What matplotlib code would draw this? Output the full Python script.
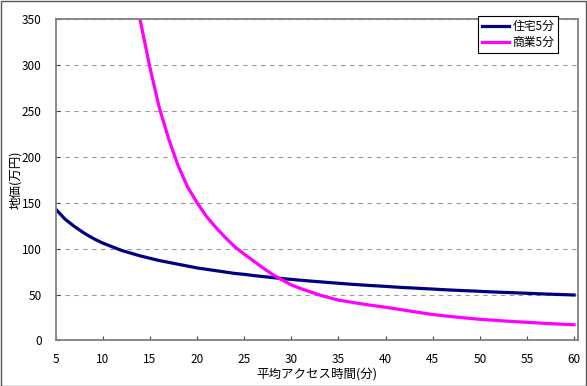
import numpy as np
import matplotlib
matplotlib.use("Agg")
from matplotlib import pyplot as plt
from matplotlib.patches import Rectangle

plt.rcParams['font.family'] = ['Noto Sans CJK JP', 'DejaVu Sans']

# access time in minutes
minutes = list(range(5, 61))
# land price (10k yen), residential, 5 min
residential = [143, 132, 124, 117, 111, 106, 102, 98, 95, 92,
               89.5, 87, 85, 83, 81, 79, 77.5, 76, 74.5, 73,
               72, 70.7, 69.6, 68.5, 67.5, 66.5, 65.6, 64.7, 63.9, 63.1,
               62.3, 61.5, 60.8, 60.1, 59.5, 58.9, 58.2, 57.6, 57.1, 56.5,
               56.0, 55.4, 54.9, 54.4, 54.0, 53.5, 53.0, 52.6, 52.2, 51.8,
               51.4, 51.0, 50.6, 50.2, 49.9, 49.5]
# commercial, 5 min (starts off the top of the chart)
commercial_minutes = list(range(13, 61))
commercial = [410, 347, 297, 253, 219, 190, 167, 150, 135, 123,
              112, 102, 94, 86.5, 79, 72, 66, 60.5, 56.5, 53,
              49.5, 46.7, 44, 42.3, 40.6, 39.0, 37.6, 36.2, 34.6, 33.0,
              31.4, 29.8, 28.3, 27.1, 26.0, 25.0, 24.0, 23.1, 22.4, 21.7,
              21.0, 20.4, 19.8, 19.2, 18.6, 18.1, 17.6, 17.1]
series_labels = ['住宅5分', '商業5分']

fig = plt.figure(figsize=(5.87, 3.86), dpi=100)
ax = fig.add_axes([0.0949, 0.1179, 0.8903, 0.8329])

ax.plot(minutes, residential, color='#000080', lw=2.3, label=series_labels[0])
ax.plot(commercial_minutes, commercial, color='#FF00FF', lw=2.3, label=series_labels[1])

ax.set_xlim(5, 60.45)
ax.set_ylim(0, 350)
ax.set_xticks(np.arange(5, 61, 5))
ax.set_yticks(np.arange(0, 351, 50))
ax.tick_params(direction='in', length=3, width=0.8, color='#404040',
               labelsize=8.5, pad=10)
ax.tick_params(axis='x', pad=9)
ax.yaxis.grid(True, linestyle=(0, (4, 4)), color='#999999', lw=0.8)
ax.set_axisbelow(True)
for sp in ax.spines.values():
    sp.set_color('#808080')
    sp.set_linewidth(1.3)

ax.set_xlabel('平均アクセス時間(分)', fontsize=9, labelpad=1)
ax.set_ylabel('地価(万円)', fontsize=9, labelpad=0)

leg = ax.legend(loc='upper right', bbox_to_anchor=(0.961, 1.009), borderaxespad=0,
                fontsize=8.5, handlelength=2.3, handletextpad=0.3,
                borderpad=0.3, labelspacing=0.3, fancybox=False,
                framealpha=1)
leg.get_frame().set_edgecolor('black')
leg.get_frame().set_linewidth(0.8)

fig.patches.append(Rectangle((0.001, 0.001), 0.997, 0.997, transform=fig.transFigure,
                             fill=False, edgecolor='#555555', lw=1.0))

fig.savefig('out.png', dpi=100)
